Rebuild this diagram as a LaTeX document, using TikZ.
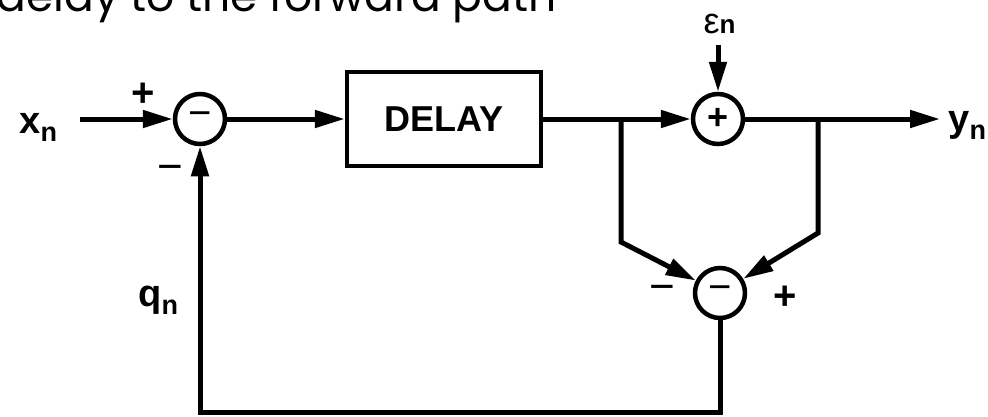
\documentclass[tikz,border=0pt]{standalone}
\usepackage{fontspec}
\setmainfont{Liberation Sans}
\newfontfamily\titlefont{Poppins}
\usetikzlibrary{arrows.meta}
\newcommand\lbl[2]{{\fontsize{38}{38}\selectfont\bfseries #1}\raisebox{-8pt}{\fontsize{27}{27}\selectfont\bfseries #2}}
\begin{document}
\begin{tikzpicture}[x=1pt,y=-1pt,line width=5pt,line join=miter,
  sumnode/.style={circle,draw,line width=4.5pt,minimum size=50pt,inner sep=0pt},
  minusin/.style={font=\fontsize{40}{40}\selectfont},
  plusin/.style={font=\fontsize{36}{36}\selectfont\bfseries},
  arr/.style={-{Triangle[length=30pt,width=17pt]}},
  lab/.style={anchor=base west,inner sep=0pt},
  plussign/.style={inner sep=0pt,font=\fontsize{40}{40}\selectfont\bfseries},
  minussign/.style={inner sep=0pt,font=\fontsize{44}{44}\selectfont}]
\useasboundingbox (0,0) rectangle (988,416);
\node[lab,font=\titlefont\fontsize{44}{44}\selectfont] (title) at (-6,11) {delay to the forward path};
% summing junctions and block
\node[sumnode,minusin] (c1) at (200,119) {−};
\node[draw,line width=4.5pt,minimum width=194pt,minimum height=94pt,inner sep=0pt,font=\fontsize{36}{36}\selectfont\bfseries] (delay) at (444,119) {DELAY};
\node[sumnode,plusin] (c2) at (718,119) {+};
\node[sumnode,minusin] (c3) at (720,293) {−};
% coordinates
\coordinate (xin) at (80,119);
\coordinate (epsin) at (718,45);
\coordinate (yout) at (940,119);
\coordinate (b1) at (621,119);
\coordinate (b1d) at (621,242);
\coordinate (b2) at (818,119);
\coordinate (b2d) at (818,233);
\coordinate (bl) at (720,412);
\coordinate (br) at (200,412);
% connectors
\draw[arr] (xin) -- (c1);
\draw[arr] (c1) -- (delay);
\draw[arr] (delay) -- (c2);
\draw[arr] (epsin) -- (c2);
\draw[arr] (c2) -- (yout);
\draw[arr] (b1) -- (b1d) -- (c3);
\draw[arr] (b2) -- (b2d) -- (c3);
\draw[arr] (c3) -- (bl) -- (br) -- (c1);
% labels
\node[lab] (xn) at (17,133) {\lbl{x}{n}};
\node[lab] (yn) at (946,131) {\lbl{y}{n}};
\node[lab] (qn) at (136,306) {\lbl{q}{n}};
\node[lab] (en) at (701,33) {{\fontsize{36}{36}\selectfont ε}{\fontsize{26}{26}\selectfont\bfseries n}};
\node[plussign] (p1) at (143,95) {+};
\node[minussign] (m1) at (170,173) {−};
\node[minussign] (m3) at (662,293) {−};
\node[plussign] (p3) at (785,298) {+};
\end{tikzpicture}
\end{document}
